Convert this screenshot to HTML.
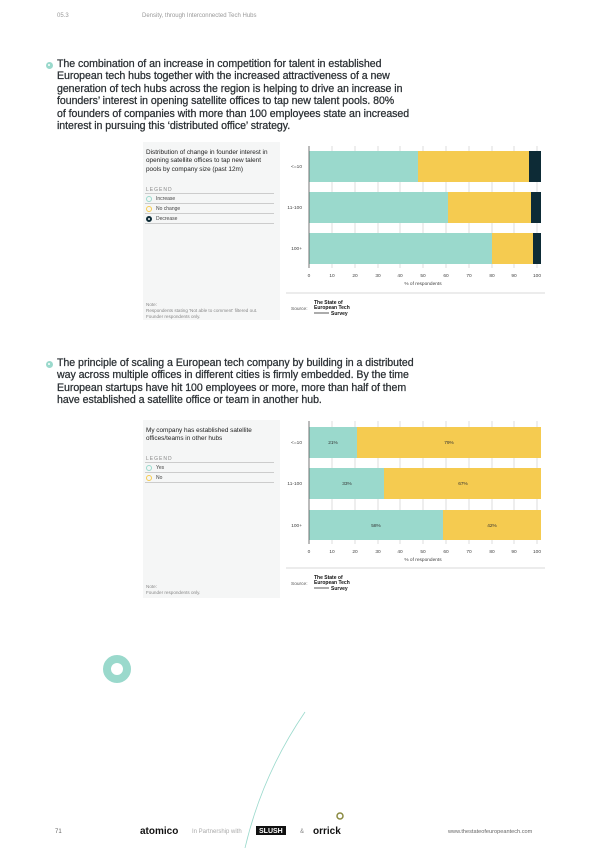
<!DOCTYPE html>
<html><head><meta charset="utf-8"><style>
*{margin:0;padding:0;box-sizing:border-box}
body{width:600px;height:848px;background:#fff;font-family:"Liberation Sans",sans-serif;position:relative;overflow:hidden;color:#2a2f33}
.a{position:absolute;white-space:nowrap}
.p{font-size:10.6px;line-height:12.4px;font-weight:normal;color:#2a2f33;-webkit-text-stroke:0.25px #2a2f33;letter-spacing:-0.05px}
.bul{position:absolute;width:7px;height:7px;border-radius:50%;background:#9ad9cc;border:1.5px solid #9ad9cc}
.bul:after{content:"";position:absolute;left:1px;top:1px;width:2px;height:2px;border-radius:50%;background:#fff}
.panel{position:absolute;background:#f5f6f6}
.ttl{font-size:6.4px;line-height:8.4px;color:#222}
.leg{font-size:5px;color:#888;letter-spacing:1px}
.li{position:absolute;left:0;width:129px;height:10px;border-bottom:0.7px solid #ccc;font-size:5px;color:#444;line-height:10px;padding-left:11px}
.dot{position:absolute;left:1px;top:2px;width:6px;height:6px;border-radius:50%;border:1.5px solid}
.small{font-size:4.6px;color:#888;line-height:6px}
</style></head><body>
<div class="a" style="left:57px;top:13px;font-size:6px;color:#999">05.3</div>
<div class="a" style="left:142px;top:13px;font-size:6px;color:#999">Density, through Interconnected Tech Hubs</div>

<div class="bul" style="left:46px;top:62px"></div>
<div class="a p" style="left:57px;top:58px">The combination of an increase in competition for talent in established<br>European tech hubs together with the increased attractiveness of a new<br>generation of tech hubs across the region is helping to drive an increase in<br>founders’ interest in opening satellite offices to tap new talent pools. 80%<br>of founders of companies with more than 100 employees state an increased<br>interest in pursuing this ‘distributed office’ strategy.</div>

<div class="panel" style="left:143px;top:142px;width:137px;height:178px"></div>
<div class="a ttl" style="left:146px;top:149px">Distribution of change in founder interest in<br>opening satellite offices to tap new talent<br>pools by company size (past 12m)</div>
<div class="a leg" style="left:146px;top:187px">LEGEND</div>
<div class="a" style="left:145px;top:185px;width:130px;height:40px">
<div class="li" style="top:0;height:9px"></div>
<div class="li" style="top:9px"><div class="dot" style="border-color:#9ad9cc"></div>Increase</div>
<div class="li" style="top:19px"><div class="dot" style="border-color:#f5cb50"></div>No change</div>
<div class="li" style="top:29px"><div class="dot" style="border-color:#0d2b36;border-width:2px"></div>Decrease</div>
</div>
<div class="a small" style="left:146px;top:302px">Note:<br>Respondents stating 'Not able to comment' filtered out.<br>Founder respondents only.</div>

<div class="panel" style="left:143px;top:420px;width:137px;height:178px"></div>
<div class="a ttl" style="left:146px;top:427px">My company has established satellite<br>offices/teams in other hubs</div>
<div class="a leg" style="left:146px;top:456px">LEGEND</div>
<div class="a" style="left:145px;top:454px;width:130px;height:40px">
<div class="li" style="top:0;height:9px"></div>
<div class="li" style="top:9px"><div class="dot" style="border-color:#9ad9cc"></div>Yes</div>
<div class="li" style="top:19px"><div class="dot" style="border-color:#f5cb50"></div>No</div>
</div>
<div class="a small" style="left:146px;top:584px">Note:<br>Founder respondents only.</div>

<svg class="a" style="left:0;top:0" width="600" height="848" font-family="Liberation Sans, sans-serif">
<g>
<g stroke="#bbb" stroke-width="0.5">
<line x1="332" y1="146" x2="332" y2="268"/><line x1="355" y1="146" x2="355" y2="268"/><line x1="378" y1="146" x2="378" y2="268"/><line x1="400" y1="146" x2="400" y2="268"/><line x1="423" y1="146" x2="423" y2="268"/><line x1="446" y1="146" x2="446" y2="268"/><line x1="469" y1="146" x2="469" y2="268"/><line x1="492" y1="146" x2="492" y2="268"/><line x1="514" y1="146" x2="514" y2="268"/><line x1="537" y1="146" x2="537" y2="268"/>
</g>
<rect x="309" y="151" width="109" height="31" fill="#9ad9cc"/><rect x="418" y="151" width="111" height="31" fill="#f5cb50"/><rect x="529" y="151" width="12" height="31" fill="#0d2b36"/>
<rect x="309" y="192" width="139" height="31" fill="#9ad9cc"/><rect x="448" y="192" width="83" height="31" fill="#f5cb50"/><rect x="531" y="192" width="10" height="31" fill="#0d2b36"/>
<rect x="309" y="233" width="183" height="31" fill="#9ad9cc"/><rect x="492" y="233" width="41" height="31" fill="#f5cb50"/><rect x="533" y="233" width="8" height="31" fill="#0d2b36"/>
<line x1="309" y1="146" x2="309" y2="268" stroke="#555" stroke-width="0.8"/>
<g font-size="4.8" fill="#444" text-anchor="end"><text x="302" y="168">&lt;=10</text><text x="302" y="209">11-100</text><text x="302" y="250">100+</text></g>
<g font-size="4.8" fill="#444" text-anchor="middle"><text x="309" y="277">0</text><text x="332" y="277">10</text><text x="355" y="277">20</text><text x="378" y="277">30</text><text x="400" y="277">40</text><text x="423" y="277">50</text><text x="446" y="277">60</text><text x="469" y="277">70</text><text x="492" y="277">80</text><text x="514" y="277">90</text><text x="537" y="277">100</text><text x="423" y="285">% of respondents</text></g>
<line x1="286" y1="293" x2="545" y2="293" stroke="#ccc" stroke-width="0.7"/>
<text x="291" y="310" font-size="4.8" fill="#555">Source:</text>
<text x="314" y="304" font-size="5" font-weight="bold" fill="#111">The State of</text><text x="314" y="309" font-size="5" font-weight="bold" fill="#111">European Tech</text><line x1="314" y1="313" x2="329" y2="313" stroke="#111" stroke-width="0.7"/><text x="331" y="315" font-size="5" font-weight="bold" fill="#111">Survey</text>
</g>
<g>
<g stroke="#bbb" stroke-width="0.5">
<line x1="332" y1="421" x2="332" y2="544"/><line x1="355" y1="421" x2="355" y2="544"/><line x1="378" y1="421" x2="378" y2="544"/><line x1="400" y1="421" x2="400" y2="544"/><line x1="423" y1="421" x2="423" y2="544"/><line x1="446" y1="421" x2="446" y2="544"/><line x1="469" y1="421" x2="469" y2="544"/><line x1="492" y1="421" x2="492" y2="544"/><line x1="514" y1="421" x2="514" y2="544"/><line x1="537" y1="421" x2="537" y2="544"/>
</g>
<rect x="309" y="427" width="48" height="31" fill="#9ad9cc"/><rect x="357" y="427" width="184" height="31" fill="#f5cb50"/>
<rect x="309" y="468" width="75" height="31" fill="#9ad9cc"/><rect x="384" y="468" width="157" height="31" fill="#f5cb50"/>
<rect x="309" y="510" width="134" height="30" fill="#9ad9cc"/><rect x="443" y="510" width="98" height="30" fill="#f5cb50"/>
<line x1="309" y1="421" x2="309" y2="544" stroke="#555" stroke-width="0.8"/>
<g font-size="4.8" fill="#333" text-anchor="middle"><text x="333" y="444">21%</text><text x="449" y="444">79%</text><text x="347" y="485">33%</text><text x="463" y="485">67%</text><text x="376" y="527">58%</text><text x="492" y="527">42%</text></g>
<g font-size="4.8" fill="#444" text-anchor="end"><text x="302" y="444">&lt;=10</text><text x="302" y="485">11-100</text><text x="302" y="527">100+</text></g>
<g font-size="4.8" fill="#444" text-anchor="middle"><text x="309" y="553">0</text><text x="332" y="553">10</text><text x="355" y="553">20</text><text x="378" y="553">30</text><text x="400" y="553">40</text><text x="423" y="553">50</text><text x="446" y="553">60</text><text x="469" y="553">70</text><text x="492" y="553">80</text><text x="514" y="553">90</text><text x="537" y="553">100</text><text x="423" y="561">% of respondents</text></g>
<line x1="286" y1="568" x2="545" y2="568" stroke="#ccc" stroke-width="0.7"/>
<text x="291" y="585" font-size="4.8" fill="#555">Source:</text>
<text x="314" y="579" font-size="5" font-weight="bold" fill="#111">The State of</text><text x="314" y="584" font-size="5" font-weight="bold" fill="#111">European Tech</text><line x1="314" y1="588" x2="329" y2="588" stroke="#111" stroke-width="0.7"/><text x="331" y="590" font-size="5" font-weight="bold" fill="#111">Survey</text>
</g>
<circle cx="117" cy="669" r="10" fill="none" stroke="#9ad9cc" stroke-width="8"/>
<path d="M305 712 Q262 775 245 848" fill="none" stroke="#9ad9cc" stroke-width="0.8"/>
<text x="55" y="833" font-size="6" fill="#666">71</text>
<text x="140" y="834" font-size="10" font-weight="bold" fill="#111">atomico</text>
<text x="192" y="833" font-size="6" fill="#aaa">In Partnership with</text>
<rect x="256" y="826" width="30" height="9" fill="#111"/><text x="259" y="833" font-size="7" fill="#fff" font-weight="bold">SLUSH</text>
<text x="300" y="833" font-size="6" fill="#888">&amp;</text>
<text x="313" y="834" font-size="10" font-weight="bold" fill="#111">orrick</text>
<circle cx="340" cy="816" r="3" fill="none" stroke="#8a8a40" stroke-width="1.5"/>
<text x="448" y="833" font-size="5.6" fill="#666">www.thestateofeuropeantech.com</text>
</svg>

<div class="bul" style="left:46px;top:361px"></div>
<div class="a p" style="left:57px;top:357px">The principle of scaling a European tech company by building in a distributed<br>way across multiple offices in different cities is firmly embedded. By the time<br>European startups have hit 100 employees or more, more than half of them<br>have established a satellite office or team in another hub.</div>
</body></html>
